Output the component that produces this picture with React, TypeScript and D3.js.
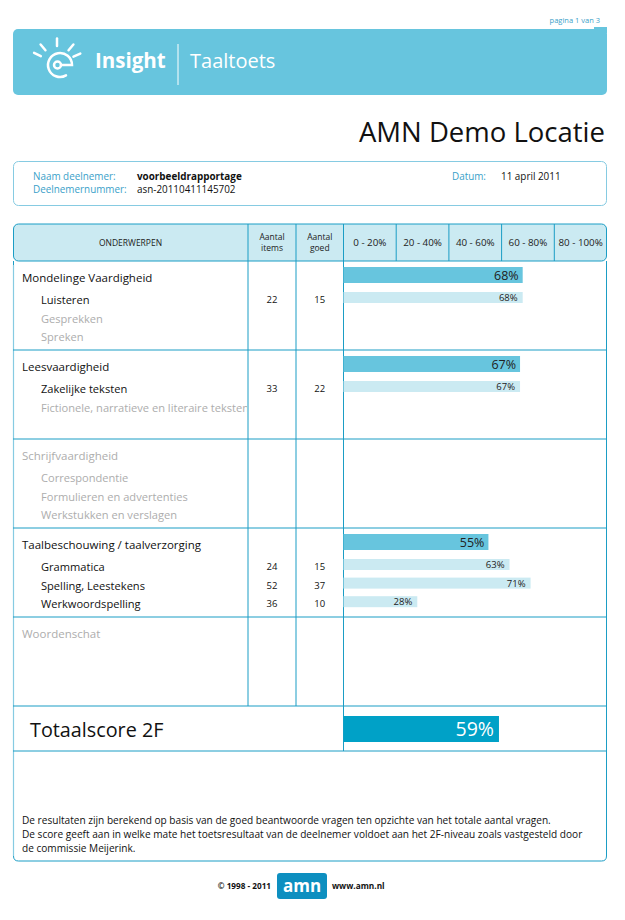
import React from "react";
import * as d3 from "d3";

// ---------- data ----------
const bandLabels = ["0 - 20%", "20 - 40%", "40 - 60%", "60 - 80%", "80 - 100%"];
const sectionNames = [
  "Mondelinge Vaardigheid",
  "Leesvaardigheid",
  "Schrijfvaardigheid",
  "Taalbeschouwing / taalverzorging",
  "Woordenschat",
];
const sectionScores: (number | null)[] = [68, 67, null, 55, null];
const topicNames = [
  "Luisteren",
  "Gesprekken",
  "Spreken",
  "Zakelijke teksten",
  "Fictionele, narratieve en literaire teksten",
  "Correspondentie",
  "Formulieren en advertenties",
  "Werkstukken en verslagen",
  "Grammatica",
  "Spelling, Leestekens",
  "Werkwoordspelling",
];
const topicSection = [0, 0, 0, 1, 1, 2, 2, 2, 3, 3, 3];
const topicItems: (number | null)[] = [22, null, null, 33, null, null, null, null, 24, 52, 36];
const topicGoed: (number | null)[] = [15, null, null, 22, null, null, null, null, 15, 37, 10];
const topicScores: (number | null)[] = [68, null, null, 67, null, null, null, null, 63, 71, 28];
const totalLabel = "Totaalscore 2F";
const totalScore = 59;

// ---------- style ----------
const FONT = "'Open Sans', 'Noto Sans', sans-serif";
const LINE = "#1b9dc5";
const LIGHT_LINE = "#86cbe2";
const HEAD_FILL = "#cbeaf2";
const MAIN_BAR = "#67c5de";
const SUB_BAR = "#cbeaf2";
const TOTAL_BAR = "#00a1c7";
const GREY = "#adadad";
const LABEL_BLUE = "#3a9fc9";

export default function App() {
  const W = 625, H = 920;
  const left = 13, right = 607;
  const colTopic = 248, colItems = 296, barStart = 343.5;
  const headTop = 224, headBottom = 261;
  const x = d3.scaleLinear().domain([0, 100]).range([barStart, right]);
  const rowY = d3.scaleLinear().domain([0, sectionNames.length]).range([headBottom, 706]);
  const totalBottom = 751;
  const boxBottom = 861;

  const subIndex = topicNames.map((_, i) => topicSection.slice(0, i).filter((s) => s === topicSection[i]).length);

  // logo rays
  const cx = 57, cy = 64;
  const rayAngles = [-154, -130, -90, -50, -24];

  return (
    <svg width={W} height={H} style={{ position: "absolute", left: 0, top: 0, fontFamily: FONT }}>
      <rect width={W} height={H} fill="#fff" />
      {/* page number */}
      <text x={600} y={23} fontSize={7.5} fill={LABEL_BLUE} textAnchor="end">pagina 1 van 3</text>

      {/* banner */}
      <rect x={left} y={29} width={right - left} height={66} rx={5} fill={MAIN_BAR} />
      <rect x={594} y={27} width={13} height={6} fill={MAIN_BAR} />
      <g stroke="#fff" strokeWidth={2.5} strokeLinecap="round" fill="none">
        {rayAngles.map((a, i) => {
          const r = (a * Math.PI) / 180;
          return (
            <line key={i} x1={cx + 18 * Math.cos(r)} y1={cy + 18 * Math.sin(r)} x2={cx + 25.5 * Math.cos(r)} y2={cy + 25.5 * Math.sin(r)} />
          );
        })}
        <circle cx={cx + 0.5} cy={cy + 1} r={3.5} />
        <path d={`M${cx + 4},${cy + 1} H${cx + 15} A12 12 0 1 0 ${cx + 9},${cy + 11.4}`} />
      </g>
      <text x={95} y={68} fontSize={20.5} fontWeight={700} fill="#fff">Insight</text>
      <line x1={178} y1={44} x2={178} y2={85} stroke="#fff" strokeWidth={1} />
      <text x={190} y={68} fontSize={20} fill="#fff">Taaltoets</text>

      {/* location */}
      <text x={605} y={142} fontSize={27.5} fill="#111" textAnchor="end">AMN Demo Locatie</text>

      {/* info box */}
      <rect x={left + 0.5} y={161.5} width={right - left - 1} height={44} rx={5} fill="none" stroke={LIGHT_LINE} />
      <g fontSize={9.9}>
        <text x={33} y={179.5} fill={LABEL_BLUE}>Naam deelnemer:</text>
        <text x={33} y={193} fill={LABEL_BLUE}>Deelnemernummer:</text>
        <text x={137} y={179.5} fill="#111" fontWeight={700}>voorbeeldrapportage</text>
        <text x={137} y={193} fill="#111">asn-20110411145702</text>
        <text x={452} y={179.5} fill={LABEL_BLUE}>Datum:</text>
        <text x={501} y={179.5} fill="#111">11 april 2011</text>
      </g>

      {/* table header */}
      <rect x={left + 0.5} y={headTop} width={right - left - 1} height={headBottom - headTop} rx={5} fill={HEAD_FILL} stroke={LINE} />
      {[colTopic, colItems, ...bandLabels.map((_, i) => x(i * 20))].map((cxl, i) => (
        <line key={i} x1={cxl} x2={cxl} y1={headTop} y2={headBottom} stroke={LINE} />
      ))}
      <g fontSize={8.5} fill="#222" textAnchor="middle">
        <text x={(left + colTopic) / 2} y={246}>ONDERWERPEN</text>
        <text x={(colTopic + colItems) / 2} y={240}>Aantal</text>
        <text x={(colTopic + colItems) / 2} y={251}>items</text>
        <text x={(colItems + barStart) / 2} y={240}>Aantal</text>
        <text x={(colItems + barStart) / 2} y={251}>goed</text>
        {bandLabels.map((b, i) => (
          <text key={b} x={(x(i * 20) + x(i * 20 + 20)) / 2} y={246} fontSize={9.8}>{b}</text>
        ))}
      </g>

      {/* body frame */}
      <path
        d={`M${left + 0.5},${headBottom} V${boxBottom - 5} Q${left + 0.5},${boxBottom} ${left + 5.5},${boxBottom} H${right - 5.5} Q${right - 0.5},${boxBottom} ${right - 0.5},${boxBottom - 5} V${headBottom}`}
        fill="none"
        stroke={LINE}
      />
      <line x1={left + 0.5} x2={left + 0.5} y1={headBottom + 4} y2={boxBottom - 5} stroke={LIGHT_LINE} strokeWidth={1.2} />
      {sectionNames.map((_, i) => (
        <line key={i} x1={left} x2={right} y1={rowY(i + 1)} y2={rowY(i + 1)} stroke={LINE} />
      ))}
      <line x1={left} x2={right} y1={totalBottom} y2={totalBottom} stroke={LINE} />
      <line x1={colTopic} x2={colTopic} y1={headBottom} y2={rowY(sectionNames.length)} stroke={LINE} />
      <line x1={colItems} x2={colItems} y1={headBottom} y2={rowY(sectionNames.length)} stroke={LINE} />
      <line x1={barStart} x2={barStart} y1={headBottom} y2={totalBottom} stroke={LINE} />

      <defs>
        <clipPath id="topicClip">
          <rect x={left} y={headBottom} width={colTopic - left - 1} height={rowY(sectionNames.length) - headBottom} />
        </clipPath>
      </defs>

      {/* sections */}
      {sectionNames.map((name, i) => {
        const top = rowY(i);
        const score = sectionScores[i];
        return (
          <g key={name}>
            <text x={22} y={top + 21} fontSize={11.5} fill={score == null ? GREY : "#111"}>{name}</text>
            {score != null && (
              <g>
                <rect x={x(0)} y={top + 6} width={x(score) - x(0)} height={16} fill={MAIN_BAR} />
                <text x={x(score) - 4} y={top + 19} fontSize={12.5} fill="#222" textAnchor="end">{score}%</text>
              </g>
            )}
          </g>
        );
      })}

      {/* topics */}
      {topicNames.map((name, i) => {
        const top = rowY(topicSection[i]);
        const j = subIndex[i];
        const base = top + 43 + 18.6 * j;
        const s = topicScores[i];
        return (
          <g key={name}>
            <text x={41} y={base} fontSize={11.1} fill={s == null ? GREY : "#111"} clipPath="url(#topicClip)">{name}</text>
            {topicItems[i] != null && (
              <text x={(colTopic + colItems) / 2} y={base - 1} fontSize={9.5} fill="#111" textAnchor="middle">{topicItems[i]}</text>
            )}
            {topicGoed[i] != null && (
              <text x={(colItems + barStart) / 2} y={base - 1} fontSize={9.5} fill="#111" textAnchor="middle">{topicGoed[i]}</text>
            )}
            {s != null && (
              <g>
                <rect x={x(0)} y={top + 31 + 18.6 * j} width={x(s) - x(0)} height={11} fill={SUB_BAR} />
                <text x={x(s) - 5} y={top + 40 + 18.6 * j} fontSize={9.5} fill="#222" textAnchor="end">{s}%</text>
              </g>
            )}
          </g>
        );
      })}

      {/* total */}
      <text x={30} y={737} fontSize={19.8} fill="#111">{totalLabel}</text>
      <rect x={x(0)} y={716} width={x(totalScore) - x(0)} height={26} fill={TOTAL_BAR} />
      <text x={x(totalScore) - 5} y={736} fontSize={19.5} fill="#fff" textAnchor="end">{totalScore}%</text>

      {/* notes */}
      <g fontSize={10.1} fill="#111">
        <text x={22} y={824}>De resultaten zijn berekend op basis van de goed beantwoorde vragen ten opzichte van het totale aantal vragen.</text>
        <text x={22} y={838}>De score geeft aan in welke mate het toetsresultaat van de deelnemer voldoet aan het 2F-niveau zoals vastgesteld door</text>
        <text x={22} y={852}>de commissie Meijerink.</text>
      </g>

      {/* footer */}
      <text x={271} y={889} fontSize={8.2} fontWeight={700} fill="#111" textAnchor="end">© 1998 - 2011</text>
      <rect x={277} y={873} width={50} height={26} rx={3} fill="#0d8fc0" />
      <text x={302} y={892} fontSize={17} fontWeight={700} fill="#fff" textAnchor="middle">amn</text>
      <text x={332} y={889} fontSize={8.3} fontWeight={700} fill="#111">www.amn.nl</text>
    </svg>
  );
}
